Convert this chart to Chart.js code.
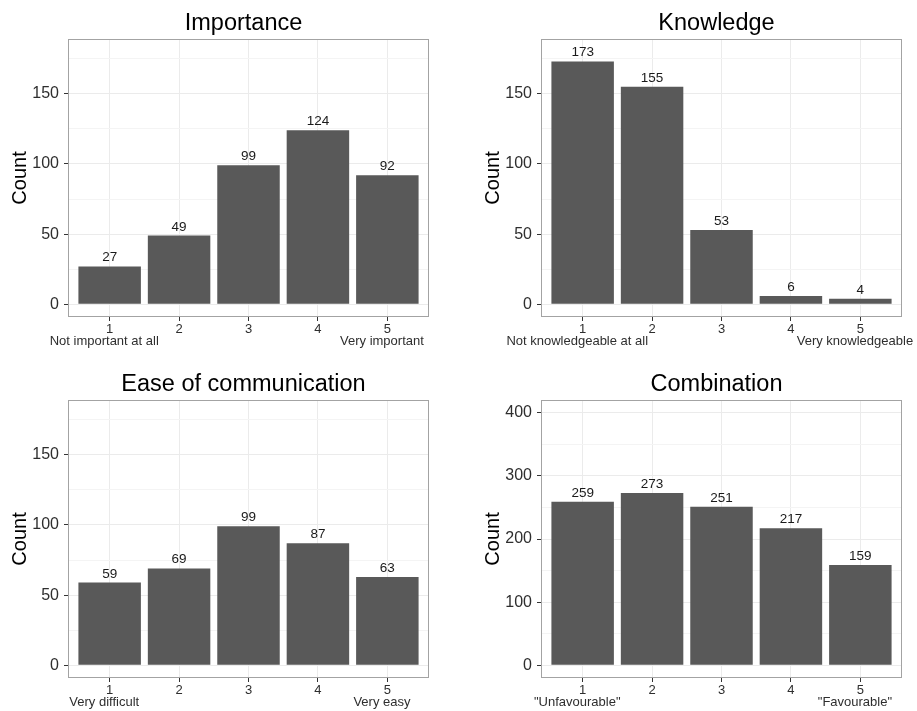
<!DOCTYPE html>
<html>
<head>
<meta charset="utf-8">
<title>Survey responses</title>
<script src="https://cdn.jsdelivr.net/npm/chart.js@4.4.1/dist/chart.umd.min.js"></script>
<style>
  html, body { margin: 0; padding: 0; background: #ffffff; }
  body { width: 917px; height: 711px; position: relative; overflow: hidden; }
  canvas { position: absolute; display: block; }
</style>
</head>
<body>
<canvas id="importance" width="458" height="355" style="left:0;top:0"></canvas>
<canvas id="knowledge" width="444" height="355" style="left:473px;top:0"></canvas>
<canvas id="ease" width="458" height="350" style="left:0;top:361px"></canvas>
<canvas id="combination" width="444" height="350" style="left:473px;top:361px"></canvas>
<script>
// Response categories on the 1-5 scale
const categories = [1, 2, 3, 4, 5];

// Counts per category
const importanceCounts  = [27, 49, 99, 124, 92];
const knowledgeCounts   = [173, 155, 53, 6, 4];
const easeCounts        = [59, 69, 99, 87, 63];
const combinationCounts = [259, 273, 251, 217, 159];

// Wording of the two ends of each scale
const importanceEnds  = ['Not important at all', 'Very important'];
const knowledgeEnds   = ['Not knowledgeable at all', 'Very knowledgeable'];
const easeEnds        = ['Very difficult', 'Very easy'];
const combinationEnds = ['"Unfavourable"', '"Favourable"'];

// Y tick values (labelled) and the in-between minor grid values
const smallMajorTicks = [0, 50, 100, 150];
const smallMinorTicks = [25, 75, 125, 175];
const largeMajorTicks = [0, 100, 200, 300, 400];
const largeMinorTicks = [50, 150, 250, 350];

const FONT = '"Liberation Sans", Arial, Helvetica, sans-serif';
// trailing padding nudges the end wording slightly left of its tick
const END_PAD = '   ';

// Bar values, panel frame and panel heading
const panelDecor = {
  id: 'panelDecor',
  afterDatasetsDraw(chart, args, opts) {
    const { ctx, chartArea: a } = chart;
    const ds = chart.data.datasets[0];
    const meta = chart.getDatasetMeta(0);
    ctx.save();
    ctx.font = '13.5px ' + FONT;
    ctx.fillStyle = '#1a1a1a';
    ctx.textAlign = 'center';
    ctx.textBaseline = 'alphabetic';
    meta.data.forEach((bar, i) => {
      ctx.fillText(String(ds.data[i].y), bar.x, bar.y - 5);
    });
    ctx.strokeStyle = '#a3a3a3';
    ctx.lineWidth = 1;
    ctx.strokeRect(a.left + 0.5, a.top + 0.5, a.right - a.left - 1, a.bottom - a.top - 1);
    ctx.font = '23.5px ' + FONT;
    ctx.fillStyle = '#000000';
    ctx.fillText(opts.text, (a.left + a.right) / 2 - 5, a.top - 9);
    ctx.restore();
  }
};

function makePanel(id, heading, counts, ends, majorTicks, minorTicks, limit) {
  const canvas = document.getElementById(id);
  const H = canvas.height;
  const majors = new Set(majorTicks);
  const yTicks = majorTicks.concat(minorTicks).sort((p, q) => p - q);
  const pad = limit * 0.05;

  return new Chart(canvas, {
    type: 'bar',
    data: {
      datasets: [{
        data: counts.map((c, i) => ({ x: categories[i], y: c })),
        backgroundColor: '#595959',
        borderWidth: 0,
        barPercentage: 0.9,
        categoryPercentage: 1.0
      }]
    },
    options: {
      responsive: false,
      animation: false,
      events: [],
      layout: { padding: { top: 39, left: 0, right: canvas.width - 429, bottom: 0 } },
      plugins: {
        legend: { display: false },
        tooltip: { enabled: false },
        title: { display: false },
        panelDecor: { text: heading }
      },
      scales: {
        x: {
          type: 'linear',
          min: 0.4,
          max: 5.6,
          offset: false,
          afterBuildTicks: (scale) => {
            scale.ticks = categories.map(v => ({ value: v }));
          },
          afterFit: (scale) => {
            scale.height = H - 317;
            scale.paddingLeft = 0;
            scale.paddingRight = 0;
          },
          border: { display: false },
          grid: {
            offset: false,
            color: '#ebebeb',
            lineWidth: 1,
            drawTicks: true,
            tickLength: 4,
            tickColor: '#333333'
          },
          ticks: {
            autoSkip: false,
            maxRotation: 0,
            minRotation: 0,
            padding: 3,
            color: '#2e2e2e',
            font: { family: FONT, size: 13, lineHeight: 0.9 },
            callback: (v, i) => {
              if (i === 0) return [String(v), ends[0] + END_PAD];
              if (i === categories.length - 1) return [String(v), ends[1] + END_PAD];
              return String(v);
            }
          }
        },
        y: {
          type: 'linear',
          min: -pad,
          max: limit + pad,
          afterBuildTicks: (scale) => {
            scale.ticks = yTicks.map(v => ({ value: v }));
          },
          afterFit: (scale) => {
            scale.width = 68;
            scale.paddingTop = 0;
            scale.paddingBottom = 0;
          },
          border: { display: false },
          grid: {
            color: (c) => majors.has(c.tick.value) ? '#ebebeb' : '#f4f4f4',
            lineWidth: 1,
            drawTicks: true,
            tickLength: 4,
            tickColor: (c) => majors.has(c.tick.value) ? '#333333' : 'rgba(0,0,0,0)'
          },
          ticks: {
            padding: 5,
            color: '#2e2e2e',
            font: { family: FONT, size: 16 },
            callback: (v) => majors.has(v) ? String(v) : ''
          },
          title: {
            display: true,
            text: 'Count',
            color: '#000000',
            font: { family: FONT, size: 20 },
            padding: { top: 8, bottom: 0 }
          }
        }
      }
    },
    plugins: [panelDecor]
  });
}

makePanel('importance', 'Importance', importanceCounts, importanceEnds, smallMajorTicks, smallMinorTicks, 180);
makePanel('knowledge', 'Knowledge', knowledgeCounts, knowledgeEnds, smallMajorTicks, smallMinorTicks, 180);
makePanel('ease', 'Ease of communication', easeCounts, easeEnds, smallMajorTicks, smallMinorTicks, 180);
makePanel('combination', 'Combination', combinationCounts, combinationEnds, largeMajorTicks, largeMinorTicks, 400);
</script>
</body>
</html>
